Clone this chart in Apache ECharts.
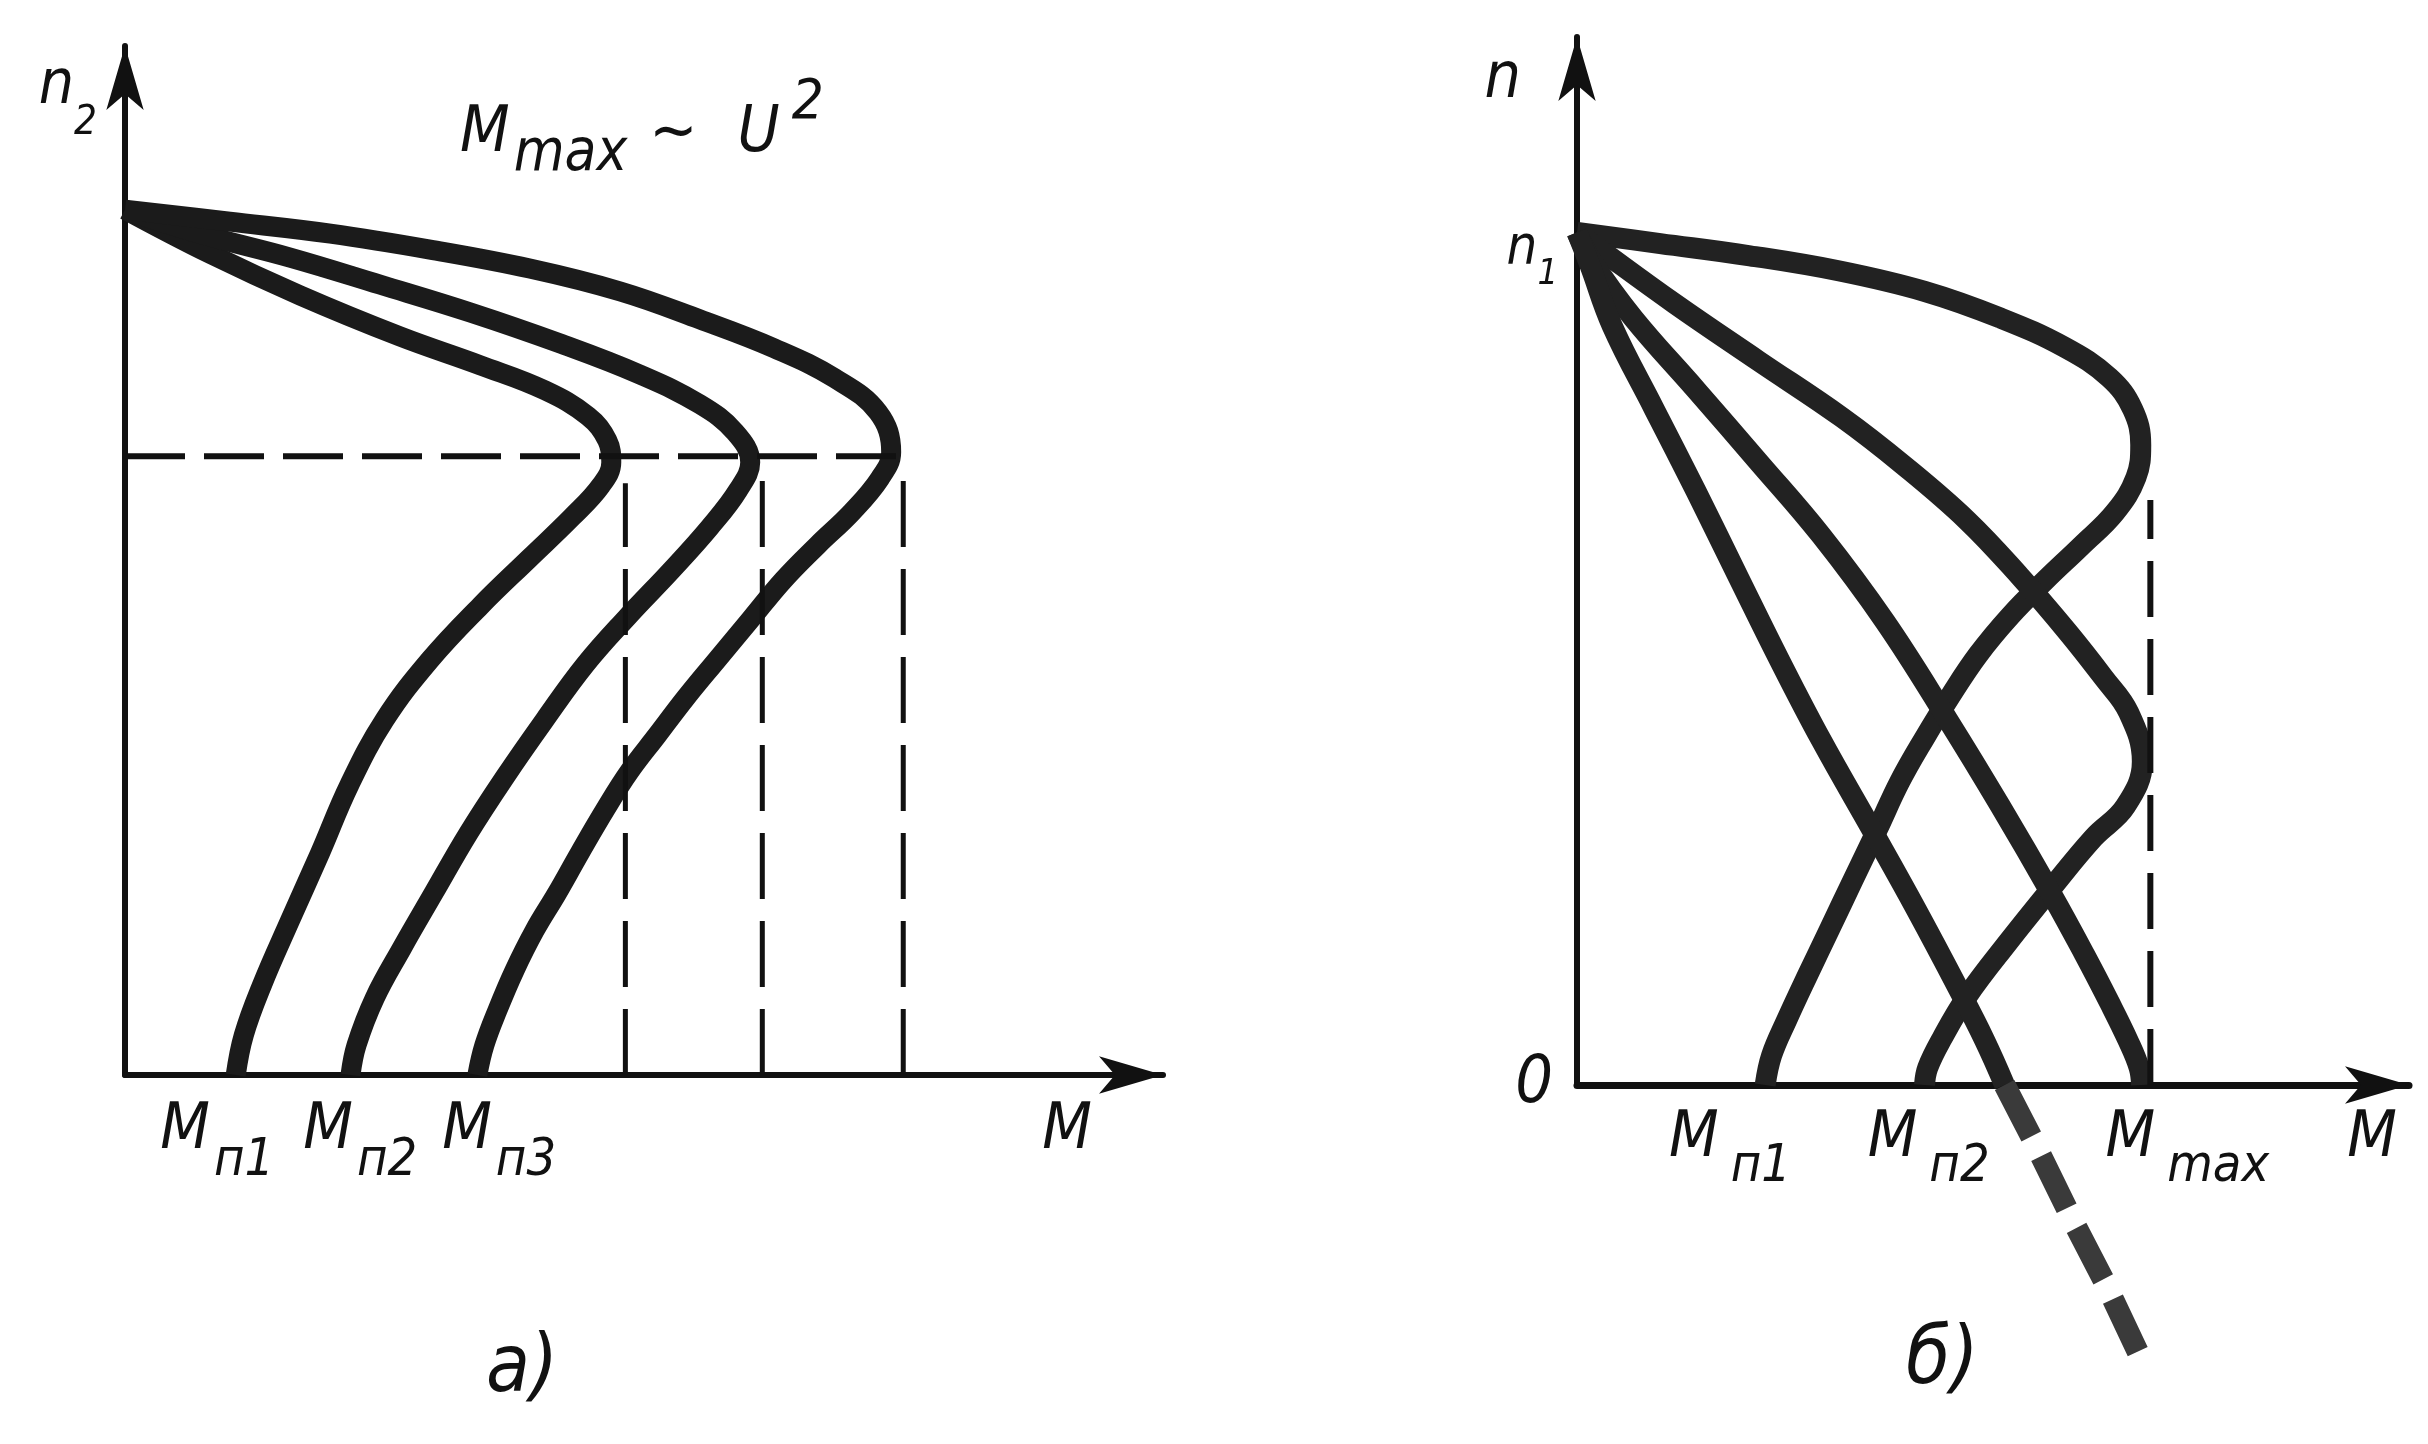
<!DOCTYPE html>
<html>
<head>
<meta charset="utf-8">
<script src="https://cdn.jsdelivr.net/npm/echarts@6/dist/echarts.min.js"></script>
<style>
html,body{margin:0;padding:0;background:#fff;}
#chart{width:2428px;height:1444px;}
</style>
</head>
<body>
<div id="chart"></div>
<script>
// ---------- Panel а): n2(M) for three supply voltages (relative units) ----------
const curveA1 = [[0,86.7],[8.4,82.3],[17.4,78.1],[27.3,74.0],[35.3,71.1],[41.7,68.6],[46.0,66.0],[47.9,63.6],[48.3,61.4],[47.3,59.1],[44.4,55.9],[40.2,51.8],[35.3,47.0],[30.3,41.6],[25.8,35.6],[22.3,29.1],[19.4,22.3],[16.4,15.5],[13.6,9.0],[11.8,4.0],[11.0,0]];
const curveA2 = [[0,86.7],[7.4,84.3],[16.4,81.9],[25.3,79.2],[34.3,76.4],[43.2,73.3],[51.1,70.2],[57.1,67.2],[60.6,64.4],[62.1,61.4],[60.9,58.6],[58.1,54.9],[54.3,50.6],[49.9,45.9],[45.7,41.1],[41.7,35.6],[37.7,29.8],[34.1,24.2],[30.7,18.3],[27.5,12.7],[24.8,7.7],[23.0,3.0],[22.4,0]];
const curveA3 = [[0,86.7],[10.4,85.5],[20.4,84.3],[30.3,82.7],[40.2,80.8],[49.2,78.5],[57.1,75.7],[64.5,72.8],[70.5,69.8],[74.8,66.4],[76.1,62.4],[75.0,59.8],[72.2,56.4],[68.8,53.1],[65.4,49.6],[62.1,45.6],[58.8,41.6],[55.7,37.8],[52.9,34.1],[50.1,30.4],[47.7,26.6],[45.2,22.3],[42.9,18.2],[40.7,14.5],[38.7,10.5],[37.0,6.5],[35.7,3.0],[35.0,0]];
const nCritA = 62.0;                   // speed at M_max (horizontal dashed line)
const hDashEndA = 76.6;
const vDashA = [49.7, 63.3, 77.3];     // M_max of each curve
const vDashTopA = [59.3, 62.0, 60.3];
const xTickValsA = [3.5, 17.7, 31.5, 91.1];
const xTickMainA = ['M','M','M','M'];
const xTickSubA = ['п1','п2','п3',''];

// ---------- Panel б): n(M) for growing rotor resistance ----------
const curveB1 = [[0,83.8],[10.4,82.7],[21.6,81.5],[32.8,80.0],[43.4,78.0],[52.8,75.4],[60.9,72.5],[66.5,69.5],[69.4,66.4],[70.4,62.9],[69.8,59.7],[67.2,56.3],[63.0,53.0],[58.6,49.7],[54.1,46.1],[50.1,42.3],[46.6,38.2],[43.4,34.1],[40.3,29.8],[37.5,25.1],[34.5,20.2],[31.6,15.4],[28.8,10.8],[26.2,6.4],[24.3,2.9],[23.5,0]];
const curveB2 = [[0,83.8],[2.9,82.1],[12.2,76.8],[22.6,71.2],[33.1,65.6],[40.8,60.9],[48.7,55.5],[55.3,50.0],[61.3,44.5],[65.8,40.0],[68.9,36.6],[70.6,31.8],[68.5,27.4],[64.5,24.3],[59.1,19.2],[53.8,14.0],[48.7,8.7],[45.6,4.6],[43.8,1.7],[43.4,0]];
const curveB3 = [[0,83.8],[1.9,80.9],[7.0,75.4],[14.9,68.3],[22.6,61.3],[30.5,54.0],[38.5,45.5],[46.3,35.9],[52.8,27.5],[59.3,18.7],[63.4,12.8],[66.5,8.1],[68.8,4.4],[70.2,1.7],[70.5,0]];
const curveB4 = [[0,83.8],[1.6,80.6],[4.4,74.6],[9.6,66.5],[14.9,58.3],[20.1,50.0],[25.2,41.9],[30.5,33.9],[37.1,24.7],[42.4,17.2],[47.6,9.5],[50.9,4.4],[53.4,0]];
const curveB4tail = [[53.4,0],[57.4,-6.1],[61.7,-13.0],[66.3,-20.0],[70.5,-27.0]];
const mMaxB = 71.6;
const mMaxTopB = 57.5;
const xTickValsB = [11.5, 36.3, 66.0, 96.2];
const xTickMainB = ['M','M','M','M'];
const xTickSubB = ['п1','п2','max',''];
const yTickValsB = [84, 0];
const yTickMainB = ['n','0'];
const yTickSubB = ['1',''];

// ---------- styling ----------
const FONT = "'Liberation Sans Narrow','DejaVu Sans Condensed','Liberation Sans',sans-serif";
const INK = '#111';
const T = (size, extra) => Object.assign({fontSize:size, lineHeight:size, fontStyle:'italic', fontWeight:'normal', fontFamily:FONT, color:INK, verticalAlign:'top'}, extra || {});

function tickFormatter(vals, mains, subs) {
  return function (v) {
    let i = vals.indexOf(v);
    if (i < 0) { i = vals.findIndex(x => Math.abs(x - v) < 1e-6); }
    if (i < 0) return '';
    const main = mains[i] === '0' ? '{z|0}' : '{m|' + mains[i] + '}';
    return main + (subs[i] ? '{s|' + subs[i] + '}' : '');
  };
}

const axisLineStyle = (w) => ({show:true, onZero:true, symbol:['none','arrow'], symbolSize:[28,64], lineStyle:{color:INK, width:w}});

function curve(data, xi, width, color) {
  return {
    type:'line', xAxisIndex:xi, yAxisIndex:xi, data:data, smooth:0.4,
    showSymbol:false, symbol:'none', clip:false, silent:true,
    lineStyle:{color:color, width:width, cap:'butt', join:'round'}
  };
}
// dashed guide lines are drawn from the M axis upwards so a dash touches the axis
function dashed(data, xi, width, dash) {
  return {type:'line', xAxisIndex:xi, yAxisIndex:xi, data:data, smooth:false,
    showSymbol:false, symbol:'none', clip:false, silent:true,
    lineStyle:{color:INK, width:width, type:dash, cap:'butt'}};
}

const series = [];
[curveA1, curveA2, curveA3].forEach(c => series.push(curve(c, 0, 20, '#1b1b1b')));
series.push(dashed([[0, nCritA], [hDashEndA, nCritA]], 0, 6, [60, 19]));
vDashA.forEach((m, i) => series.push(dashed([[m, 0], [m, vDashTopA[i]]], 0, 5, [66, 22])));
[curveB1, curveB2, curveB3, curveB4].forEach(c => series.push(curve(c, 1, 21, '#222')));
series.push({type:'line', xAxisIndex:1, yAxisIndex:1, data:curveB4tail, smooth:false,
  showSymbol:false, symbol:'none', clip:false, silent:true,
  lineStyle:{color:'#3a3a3a', width:22, type:[58, 22], cap:'butt'}});
series.push(dashed([[mMaxB, 0], [mMaxB, mMaxTopB]], 1, 6, [56, 22]));

const option = {
  backgroundColor:'#fff',
  animation:false,
  title:[
    {text:'{m|M}{s|max}{t|~}{u|U}{p|2}', left:460, top:72, padding:0,
     textStyle:{rich:{
       m:T(64,{padding:[30,0,0,0]}),
       s:T(58,{padding:[54,0,0,4]}),
       t:T(64,{fontStyle:'normal', padding:[30,40,0,22]}),
       u:T(64,{padding:[30,0,0,0]}),
       p:T(56,{padding:[3,0,0,12]})
     }}},
    {text:'а)', left:486, top:1330, padding:0, textStyle:T(80)},
    {text:'б)', left:1906, top:1322, padding:0, textStyle:T(80)}
  ],
  grid:[
    {left:125, top:46, width:1038, height:1029, containLabel:false, outerBoundsMode:'none'},
    {left:1577, top:37, width:832, height:1048, containLabel:false, outerBoundsMode:'none'}
  ],
  xAxis:[
    {type:'value', gridIndex:0, min:0, max:103.1, axisLine:axisLineStyle(6),
     axisTick:{show:false}, splitLine:{show:false},
     axisLabel:{show:true, customValues:xTickValsA, align:'left', verticalAlign:'top', margin:24,
       formatter:tickFormatter(xTickValsA, xTickMainA, xTickSubA),
       rich:{m:T(64), s:T(52,{padding:[36,0,0,4]})}}},
    {type:'value', gridIndex:1, min:0, max:103.9, axisLine:axisLineStyle(7),
     axisTick:{show:false}, splitLine:{show:false},
     axisLabel:{show:true, customValues:xTickValsB, align:'left', verticalAlign:'top', margin:22,
       formatter:tickFormatter(xTickValsB, xTickMainB, xTickSubB),
       rich:{m:T(64), s:T(52,{padding:[34,0,0,12]})}}}
  ],
  yAxis:[
    {type:'value', gridIndex:0, min:0, max:103.1, axisLine:axisLineStyle(6),
     axisTick:{show:false}, splitLine:{show:false}, axisLabel:{show:false},
     name:'{n|n}{s|2}', nameLocation:'end', nameGap:-10,
     nameTextStyle:{align:'right', verticalAlign:'top', padding:[0,28,0,0],
       rich:{n:T(62), s:T(40,{padding:[48,0,0,0]})}}},
    {type:'value', gridIndex:1, min:0, max:103.0, axisLine:axisLineStyle(6),
     axisTick:{show:false}, splitLine:{show:false},
     axisLabel:{show:true, customValues:yTickValsB, align:'right', verticalAlign:'middle', margin:19,
       formatter:tickFormatter(yTickValsB, yTickMainB, yTickSubB),
       rich:{m:T(54,{padding:[19,0,0,0]}), s:T(36,{padding:[53,0,0,0]}), z:T(66,{padding:[0,5,40,0]})}},
     name:'{n|n}', nameLocation:'end', nameGap:-11,
     nameTextStyle:{align:'right', verticalAlign:'top', padding:[0,56,0,0], rich:{n:T(64)}}}
  ],
  series:series
};

const chart = echarts.init(document.getElementById('chart'), null, {renderer:'canvas', width:2428, height:1444});
chart.setOption(option);
</script>
</body>
</html>
